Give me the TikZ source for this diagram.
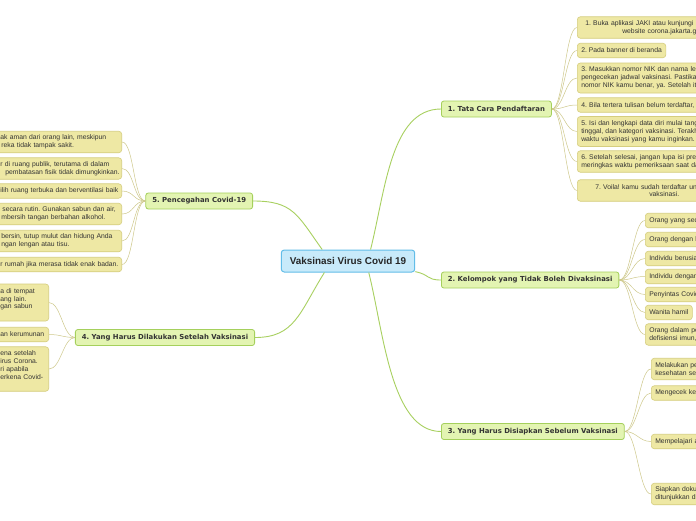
\documentclass[tikz,border=0pt]{standalone}
\usepackage{fontspec}
\setmainfont{Liberation Sans}
\newfontfamily\brfont{DejaVu Sans}
\definecolor{rootf}{HTML}{C8EAFA}
\definecolor{rootb}{HTML}{62BDE8}
\definecolor{brf}{HTML}{E3F4B2}
\definecolor{brb}{HTML}{A5D05C}
\definecolor{lff}{HTML}{EEE8A4}
\definecolor{lfb}{HTML}{D5CD7E}
\definecolor{trunkc}{HTML}{A8D060}
\definecolor{twigc}{HTML}{CEC88A}
\definecolor{txt}{HTML}{333333}
\newcommand{\lne}[1]{\mbox{#1}}
\tikzset{
  rootnode/.style={draw=rootb, fill=rootf, rounded corners=3pt, line width=1pt,
    font=\fontsize{9.9}{12}\selectfont\bfseries, text=black!85, inner xsep=8.5pt, inner ysep=0pt, minimum height=22pt},
  branch/.style={draw=brb, fill=brf, rounded corners=2.5pt, line width=0.8pt,
    font=\brfont\fontsize{6.9}{8}\selectfont\bfseries, text=txt, inner xsep=6.5pt, inner ysep=0pt, minimum height=16pt},
  leaf/.style={draw=lfb, fill=lff, rounded corners=3pt, line width=0.6pt,
    font=\fontsize{6.8}{7.8}\selectfont, text=txt, inner xsep=4pt, inner ysep=0pt, align=left},
  rl/.style={leaf, anchor=west, text width=170pt},
  rk/.style={leaf, anchor=west, text width=100pt},
  ll/.style={leaf, anchor=east, text width=117.3pt},
  lq/.style={leaf, anchor=east, text width=44.3pt},
  h1/.style={minimum height=14.5pt},
  h2/.style={minimum height=21.5pt},
  h3/.style={minimum height=30pt},
  h4/.style={minimum height=37pt},
  h5/.style={minimum height=44.5pt},
  trunk/.style={draw=trunkc, line width=0.9pt},
  twig/.style={draw=twigc, line width=0.5pt},
}
\begin{document}
\frenchspacing
\begin{tikzpicture}[x=1pt,y=-1pt]
\useasboundingbox (0,0) rectangle (696,520);
\clip (0,0) rectangle (696,520);
\fill[white] (0,0) rectangle (696,520);

% root
\node[rootnode] (root) at (348,261) {Vaksinasi Virus Covid 19};

% branches
\node[branch, anchor=west] (b1) at (441,109) {1. Tata Cara Pendaftaran};
\node[branch, anchor=west] (b2) at (441,280) {2. Kelompok yang Tidak Boleh Divaksinasi};
\node[branch, anchor=west] (b3) at (441,431.5) {3. Yang Harus Disiapkan Sebelum Vaksinasi};
\node[branch, anchor=east] (b5) at (253,201) {5. Pencegahan Covid-19};
\node[branch, anchor=east] (b4) at (255,337.5) {4. Yang Harus Dilakukan Setelah Vaksinasi};

% branch 1 leaves
\node[rl,h2] (l1) at (577,27.5) {\lne{\hspace*{4pt}1. Buka aplikasi JAKI atau kunjungi}\\\lne{\hspace*{41pt}website corona.jakarta.go.id}};
\node[leaf,h1,anchor=west] (l2) at (577,50.5) {2. Pada banner di beranda};
\node[rl,h3] (l3) at (577,78) {\lne{3. Masukkan nomor NIK dan nama lengkap}\\\lne{pengecekan jadwal vaksinasi. Pastikan}\\\lne{nomor NIK kamu benar, ya. Setelah itu,}};
\node[rl,h1] (l4) at (577,105) {\lne{4. Bila tertera tulisan belum terdaftar,}};
\node[rl,h3] (l5) at (577,131.5) {\lne{5. Isi dan lengkapi data diri mulai tanggal}\\\lne{tinggal, dan kategori vaksinasi. Terakhir,}\\\lne{waktu vaksinasi yang kamu inginkan.}};
\node[rl,h2] (l6) at (577,161.5) {\lne{6. Setelah selesai, jangan lupa isi pre-screening}\\\lne{meringkas waktu pemeriksaan saat datang}};
\node[rl,h2] (l7) at (577,190.5) {\lne{\hspace*{14pt}7. Voila! kamu sudah terdaftar untuk}\\\lne{\hspace*{68pt}vaksinasi.}};

% branch 2 leaves
\node[rk,h1] (k1) at (645,220.5) {\lne{Orang yang sedang}};
\node[rk,h1] (k2) at (645,239.5) {\lne{Orang dengan komorbid}};
\node[rk,h1] (k3) at (645,258.5) {\lne{Individu berusia}};
\node[rk,h1] (k4) at (645,276.5) {\lne{Individu dengan}};
\node[rk,h1] (k5) at (645,294.5) {\lne{Penyintas Covid-19}};
\node[leaf,h1,anchor=west] (k6) at (645,312.5) {Wanita hamil};
\node[rk,h2] (k7) at (645,334.5) {\lne{Orang dalam pengobatan}\\\lne{defisiensi imun,}};

% branch 3 leaves
\node[rk,h2] (s1) at (651,369) {\lne{Melakukan pemeriksaan}\\\lne{kesehatan sesuai}};
\node[rk,h1] (s2) at (651,393) {\lne{Mengecek kembali}};
\node[rk,h1] (s3) at (651,441.5) {\lne{Mempelajari alur}};
\node[rk,h2] (s4) at (651,494) {\lne{Siapkan dokumen}\\\lne{ditunjukkan di}};

% branch 5 leaves
\node[ll,h2] (p1) at (122,142) {\lne{ak aman dari orang lain, meskipun}\\\lne{\hspace*{1pt}reka tidak tampak sakit.}};
\node[ll,h2] (p2) at (122,168.5) {\lne{r di ruang publik, terutama di dalam}\\\lne{\hspace*{5pt}pembatasan fisik tidak dimungkinkan.}};
\node[ll,h1] (p3) at (122,191) {\lne{ilih ruang terbuka dan berventilasi baik}};
\node[ll,h2] (p4) at (122,214) {\lne{\hspace*{2pt}secara rutin. Gunakan sabun dan air,}\\\lne{\hspace*{1pt}mbersih tangan berbahan alkohol.}};
\node[ll,h2] (p5) at (122,241) {\lne{\hspace*{1pt}bersin, tutup mulut dan hidung Anda}\\\lne{\hspace*{1pt}ngan lengan atau tisu.}};
\node[ll,h1] (p6) at (122,264.5) {\lne{r rumah jika merasa tidak enak badan.}};

% branch 4 leaves
\node[lq,h4] (q1) at (49,302.5) {\lne{a di tempat}\\\lne{ang lain.}\\\lne{gan sabun}\\\mbox{}};
\node[lq,h1] (q2) at (49,334.5) {\lne{an kerumunan}};
\node[lq,h5] (q3) at (49,369) {\lne{ena setelah}\\\lne{irus Corona.}\\\lne{ri apabila}\\\lne{erkena Covid-}\\\mbox{}};

% trunks
\draw[trunk] (root.27) .. controls +(15,-60) and +(-50,0) .. (b1.west);
\draw[trunk] (root.-9) .. controls +(15,3) and +(-15,0) .. (b2.west);
\draw[trunk] (root.331) .. controls +(15,60) and +(-50,0) .. (b3.west);
\draw[trunk] (root.156) .. controls +(-25,-35) and +(40,0) .. (b5.east);
\draw[trunk] (root.206) .. controls +(-25,40) and +(40,0) .. (b4.east);

% twigs
\foreach \n in {l1,l2,l3,l4,l5,l6,l7}
  \draw[twig] (b1.east) .. controls +(12,0) and +(-12,0) .. (\n.west);
\foreach \n in {k1,k2,k3,k4,k5,k6,k7}
  \draw[twig] (b2.east) .. controls +(12,0) and +(-12,0) .. (\n.west);
\foreach \n in {s1,s2,s3,s4}
  \draw[twig] (b3.east) .. controls +(12,0) and +(-12,0) .. (\n.west);
\foreach \n in {p1,p2,p3,p4,p5,p6}
  \draw[twig] (b5.west) .. controls +(-12,0) and +(12,0) .. (\n.east);
\foreach \n in {q1,q2,q3}
  \draw[twig] (b4.west) .. controls +(-12,0) and +(12,0) .. (\n.east);
\end{tikzpicture}
\end{document}
